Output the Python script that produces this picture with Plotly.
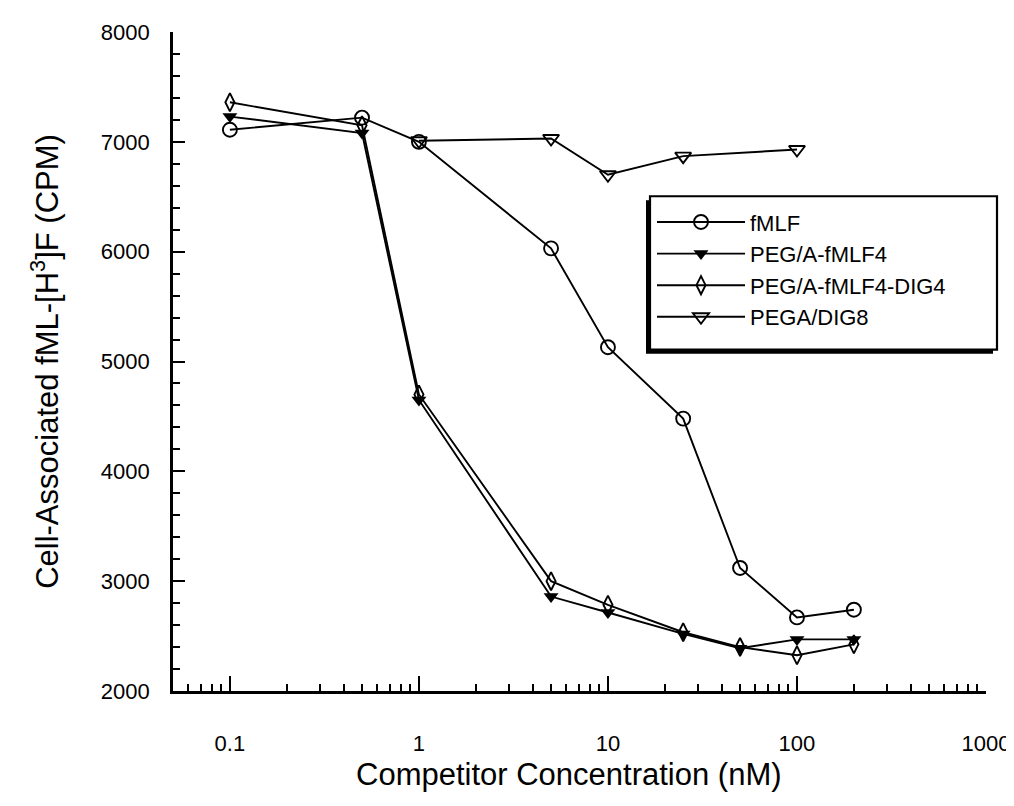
import math
import plotly.graph_objects as go

# ---- data ----
conc = [0.1, 0.5, 1, 5, 10, 25, 50, 100, 200]
fmlf = [7110, 7220, 7000, 6030, 5130, 4480, 3120, 2670, 2740]
peg_fmlf4 = [7230, 7080, 4650, 2860, 2715, 2520, 2390, 2470, 2470]
peg_fmlf4_dig4 = [7360, 7150, 4700, 3000, 2785, 2535, 2400, 2325, 2425]
conc_dig8 = [1, 5, 10, 25, 100]
pega_dig8 = [7010, 7030, 6700, 6870, 6930]

series_names = ["fMLF", "PEG/A-fMLF4", "PEG/A-fMLF4-DIG4", "PEGA/DIG8"]
x_tickvals = [0.1, 1, 10, 100, 1000]
x_ticktext = ["0.1", "1", "10", "100", "1000"]
x_title = "Competitor Concentration (nM)"
y_title = "Cell-Associated fML-[H<sup>3</sup>]F (CPM)"

W, H = 1014, 806
ML, MR, MT, MB = 165, 36, 13, 123
PW, PH = W - ML - MR, H - MT - MB


def px_x(p):
    return (p - ML) / PW


def px_y(p):
    return 1 - (p - MT) / PH


LW = 1.9
fig = go.Figure()
fig.add_trace(go.Scatter(x=conc, y=fmlf, name=series_names[0], mode="lines+markers",
                         line=dict(color="black", width=LW),
                         marker=dict(symbol="circle-open", size=14, color="black", line=dict(width=1.9))))
fig.add_trace(go.Scatter(x=conc, y=peg_fmlf4, name=series_names[1], mode="lines+markers",
                         line=dict(color="black", width=LW),
                         marker=dict(symbol="triangle-down", size=13, color="black")))
fig.add_trace(go.Scatter(x=conc, y=peg_fmlf4_dig4, name=series_names[2], mode="lines+markers",
                         line=dict(color="black", width=LW),
                         marker=dict(symbol="diamond-tall-open", size=13, color="black", line=dict(width=1.9))))
fig.add_trace(go.Scatter(x=conc_dig8, y=pega_dig8, name=series_names[3], mode="lines+markers",
                         line=dict(color="black", width=LW),
                         marker=dict(symbol="triangle-down-open", size=14, color="black", line=dict(width=1.9))))

# legend frame (pixels) with a drop shadow to the lower left
box_l, box_t, box_r, box_b = 642, 180, 989, 336
sh = 4
fig.add_shape(type="rect", xref="paper", yref="paper", layer="above",
              x0=px_x(box_l - sh), x1=px_x(box_r - sh), y0=px_y(box_t + sh), y1=px_y(box_b + sh),
              fillcolor="black", line=dict(width=0))
fig.add_shape(type="rect", xref="paper", yref="paper", layer="above",
              x0=px_x(box_l), x1=px_x(box_r), y0=px_y(box_t), y1=px_y(box_b),
              fillcolor="white", line=dict(color="black", width=2.2))

fig.add_annotation(text=x_title, xref="paper", yref="paper", x=px_x(561), y=px_y(768),
                   xanchor="center", yanchor="middle", showarrow=False, font=dict(size=31))

fig.update_layout(
    width=W, height=H,
    margin=dict(l=ML, r=MR, t=MT, b=MB),
    plot_bgcolor="white", paper_bgcolor="white",
    font=dict(family="Liberation Sans, Arial, sans-serif", color="black", size=22),
    showlegend=True,
    legend=dict(x=px_x(box_l + 2), y=px_y(box_t + 5), xanchor="left", yanchor="top",
                bgcolor="rgba(0,0,0,0)", borderwidth=0,
                font=dict(size=22), itemwidth=88, tracegroupgap=0),
)
fig.update_xaxes(
    type="log", range=[math.log10(0.05), 3],
    tickmode="array", tickvals=x_tickvals, ticktext=x_ticktext,
    ticks="inside", ticklen=15, tickwidth=1.6, tickcolor="black",
    minor=dict(ticks="inside", ticklen=7, tickwidth=1.6, tickcolor="black", dtick="D1", showgrid=False),
    showline=True, linecolor="black", linewidth=2.6,
    showgrid=False, zeroline=False, ticklabelstandoff=31, ticklabeloverflow="allow",
    tickfont=dict(size=22),
)
fig.update_yaxes(
    range=[2000, 8000], tick0=2000, dtick=1000,
    ticks="inside", ticklen=12, tickwidth=1.6, tickcolor="black",
    minor=dict(ticks="inside", ticklen=7, tickwidth=1.6, tickcolor="black", dtick=200, showgrid=False),
    showline=True, linecolor="black", linewidth=2.6,
    showgrid=False, zeroline=False, ticklabelstandoff=16, ticklabeloverflow="allow",
    tickfont=dict(size=22),
    title=dict(text=y_title, font=dict(size=31), standoff=33),
)

fig.write_html("out.html")
